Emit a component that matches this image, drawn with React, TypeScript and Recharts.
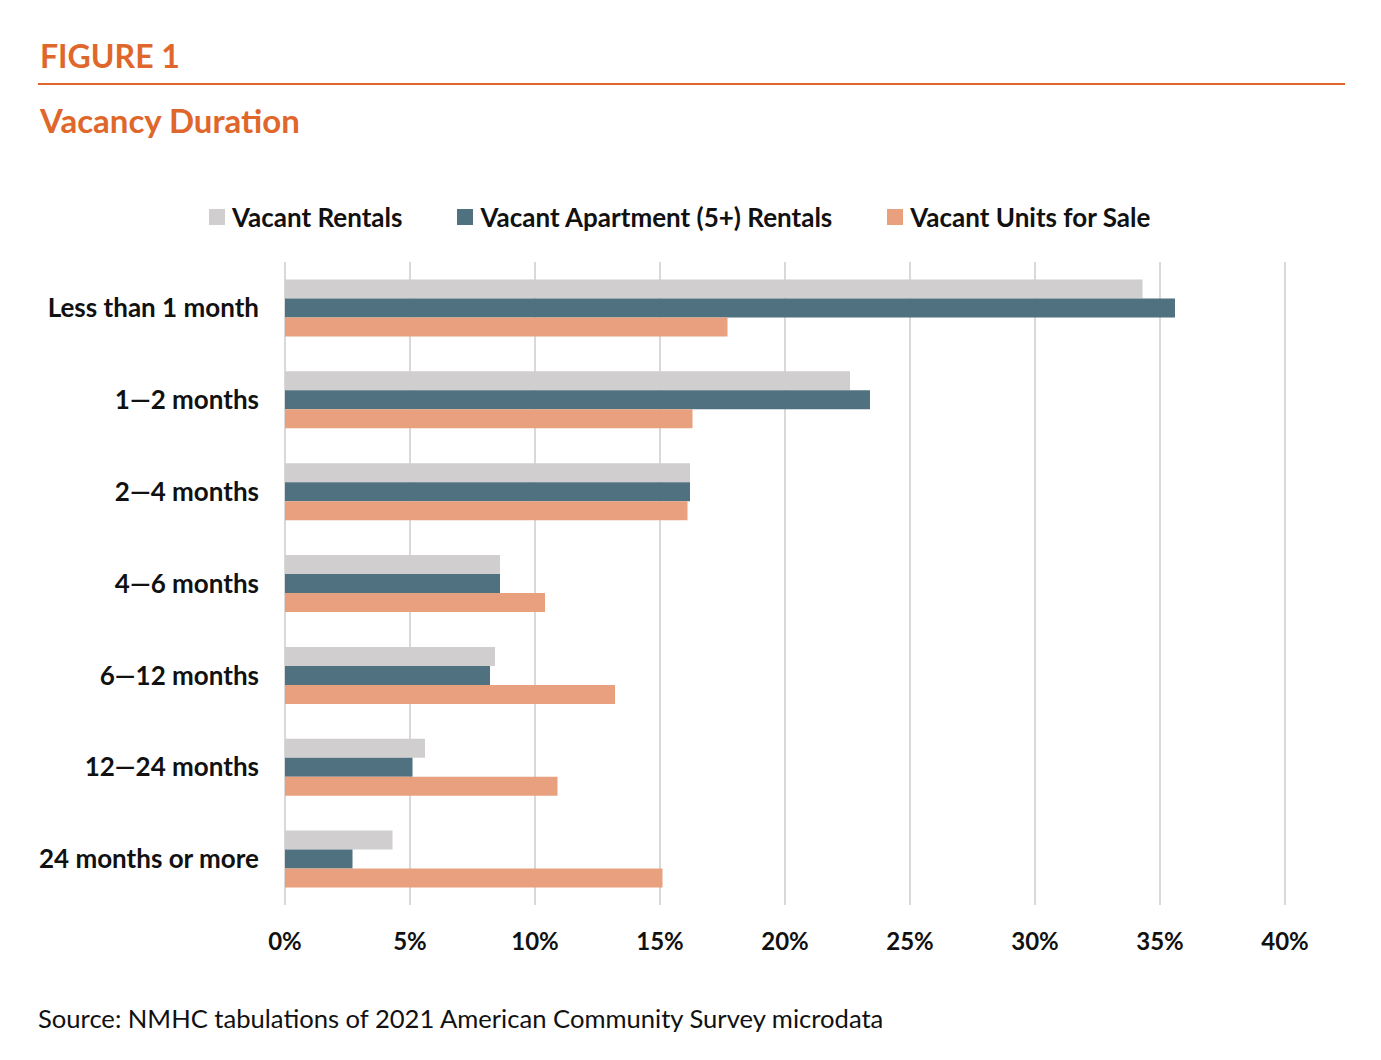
import React from "react";
import { Bar, BarChart, CartesianGrid, Legend, XAxis, YAxis } from "recharts";

const categories = [
  "Less than 1 month",
  "1—2 months",
  "2—4 months",
  "4—6 months",
  "6—12 months",
  "12—24 months",
  "24 months or more",
];
const vacantRentals = [34.3, 22.6, 16.2, 8.6, 8.4, 5.6, 4.3];
const vacantApartments = [35.6, 23.4, 16.2, 8.6, 8.2, 5.1, 2.7];
const vacantForSale = [17.7, 16.3, 16.1, 10.4, 13.2, 10.9, 15.1];
const xTicks = [0, 5, 10, 15, 20, 25, 30, 35, 40];

const series = [
  { key: "rentals", name: "Vacant Rentals", color: "#D0CECE" },
  { key: "apartments", name: "Vacant Apartment (5+) Rentals", color: "#4F7180" },
  { key: "sale", name: "Vacant Units for Sale", color: "#E8A07E" },
];

const data = categories.map((c, i) => ({
  category: c,
  rentals: vacantRentals[i],
  apartments: vacantApartments[i],
  sale: vacantForSale[i],
}));

const FONT = "Lato, 'Open Sans', sans-serif";
const ORANGE = "#E0672B";

function LegendRow() {
  return (
    <div style={{ height: 54, paddingBottom: 18, display: "flex", alignItems: "center", paddingLeft: 209 }}>
      {series.map((s) => (
        <div key={s.key} style={{ display: "flex", alignItems: "center", marginRight: 55 }}>
          <span style={{ width: 16, height: 16, background: s.color, display: "inline-block", marginRight: 7 }} />
          <span style={{ fontFamily: FONT, fontWeight: 700, fontSize: 26, color: "#111" }}>{s.name}</span>
        </div>
      ))}
    </div>
  );
}

export default function App() {
  return (
    <div style={{ position: "absolute", top: 0, left: 0, width: 1381, height: 1060, background: "#fff", fontFamily: FONT }}>
      <div style={{ position: "absolute", left: 40, top: 36, fontSize: 32, fontWeight: 700, color: ORANGE }}>FIGURE 1</div>
      <div style={{ position: "absolute", left: 38, top: 83, width: 1307, height: 2, background: ORANGE }} />
      <div style={{ position: "absolute", left: 40, top: 100, fontSize: 33, fontWeight: 700, color: ORANGE }}>Vacancy Duration</div>
      <div style={{ position: "absolute", left: 0, top: 190 }}>
        <BarChart
          width={1381}
          height={780}
          data={data}
          layout="vertical"
          margin={{ top: 0, right: 96, bottom: 5, left: 0 }}
          barCategoryGap="19%"
          barGap={0}
        >
          <CartesianGrid horizontal={false} vertical stroke="#D9D9D9" strokeWidth={2} />
          <XAxis
            type="number"
            domain={[0, 40]}
            ticks={xTicks}
            tickFormatter={(v) => `${v}%`}
            axisLine={false}
            tickLine={false}
            height={60}
            tickMargin={22}
            tick={{ fontFamily: FONT, fontWeight: 700, fontSize: 24, fill: "#111" }}
          />
          <YAxis
            type="category"
            dataKey="category"
            width={285}
            axisLine={false}
            tickLine={false}
            tickMargin={20}
            tick={{ fontFamily: FONT, fontWeight: 700, fontSize: 26, fill: "#111" }}
          />
          <Legend verticalAlign="top" content={() => <LegendRow />} />
          {series.map((s) => (
            <Bar key={s.key} dataKey={s.key} name={s.name} fill={s.color} isAnimationActive={false} />
          ))}
        </BarChart>
      </div>
      <div style={{ position: "absolute", left: 38, top: 1003, fontSize: 25.6, color: "#111" }}>
        Source: NMHC tabulations of 2021 American Community Survey microdata
      </div>
    </div>
  );
}
